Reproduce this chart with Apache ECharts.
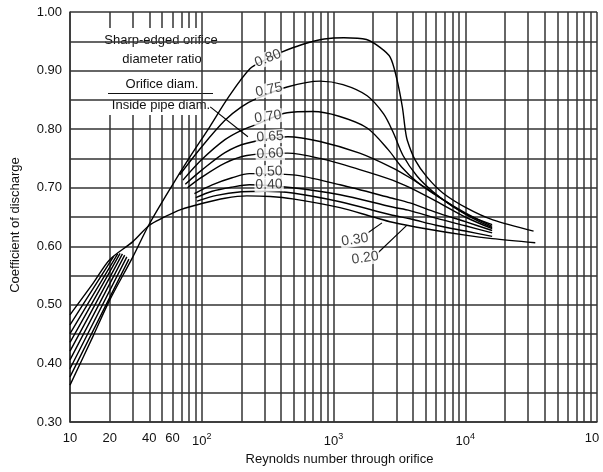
<!DOCTYPE html>
<html><head><meta charset="utf-8">
<script src="https://cdn.jsdelivr.net/npm/echarts@6/dist/echarts.min.js"></script>
<style>html,body{margin:0;padding:0;background:#fff}#c{width:603px;height:472px}</style>
</head><body><div id="c"></div>
<script>
// ---- data ----
const ratioLabels = ['0.80','0.75','0.70','0.65','0.60','0.50','0.40','0.30','0.20'];
const xTickValues = [10, 20, 40, 60, 100, 1000, 10000, 100000];
const xTickText   = ['10','20','40','60','10|2','10|3','10|4','10'];
const yTickValues = [0.30,0.40,0.50,0.60,0.70,0.80,0.90,1.00];

// continuous curves
const curve80 = [[10,0.363],[15,0.447],[20,0.508],[30,0.582],[40,0.638],[60,0.705],[80,0.75],[115,0.804],[160,0.855],[232,0.903],[300,0.918],[400,0.931],[490,0.939],[650,0.948],[850,0.954],[1200,0.956],[1780,0.953],[2240,0.94],[2690,0.923],[3000,0.889],[3330,0.838],[3500,0.80],[3630,0.781],[4170,0.747],[5130,0.718],[6760,0.691],[10300,0.665],[16200,0.645],[33000,0.626]];
const curve20 = [[10,0.483],[15,0.537],[20,0.577],[30,0.608],[40,0.636],[50,0.648],[70,0.663],[100,0.673],[150,0.682],[220,0.686],[330,0.685],[490,0.681],[1120,0.666],[2000,0.65],[2800,0.641],[5000,0.63],[10000,0.619],[16000,0.613],[34000,0.606]];

// laminar-range segments
const low75 = [[10,0.377],[28,0.578]];
const low70 = [[10,0.391],[27,0.582]];
const low65 = [[10,0.406],[26,0.585]];
const low60 = [[10,0.421],[25,0.587]];
const low50 = [[10,0.436],[24,0.588]];
const low40 = [[10,0.451],[23,0.587]];
const low30 = [[10,0.466],[21.5,0.583]];

// upper-range segments
const high75 = [[68,0.722],[100,0.77],[150,0.815],[200,0.838],[260,0.852],[445,0.872],[790,0.882],[1180,0.876],[1800,0.857],[2400,0.826],[2830,0.795],[3370,0.755],[4300,0.72],[5700,0.693],[8000,0.668],[11000,0.651],[16000,0.637]];
const high70 = [[72,0.713],[100,0.748],[150,0.782],[200,0.798],[260,0.808],[445,0.828],[700,0.83],[1100,0.822],[1800,0.802],[2600,0.765],[3300,0.735],[4300,0.71],[6400,0.683],[10000,0.657],[16000,0.634]];
const high65 = [[75,0.706],[100,0.73],[150,0.76],[220,0.776],[450,0.787],[790,0.779],[1580,0.759],[2800,0.734],[3800,0.717],[6000,0.688],[10000,0.655],[16000,0.632]];
const high60 = [[78,0.70],[100,0.718],[150,0.742],[220,0.755],[450,0.759],[790,0.75],[1580,0.731],[2800,0.713],[3800,0.70],[6000,0.677],[10000,0.65],[16000,0.63]];
const high50 = [[88,0.69],[120,0.705],[170,0.717],[230,0.724],[490,0.722],[1120,0.705],[2800,0.682],[3800,0.674],[6000,0.658],[10000,0.642],[16000,0.627]];
const high40 = [[90,0.683],[120,0.694],[170,0.701],[230,0.705],[490,0.70],[1120,0.688],[2800,0.667],[3800,0.661],[6000,0.648],[10000,0.635],[16000,0.623]];
const high30 = [[92,0.677],[130,0.687],[200,0.693],[300,0.694],[490,0.691],[1120,0.676],[2800,0.653],[3800,0.647],[6000,0.636],[10000,0.626],[16000,0.617]];

// label anchors on the curves (Re, Cd) and their tilt
const labelAnchors = [[318,0.921],[324,0.867],[318,0.821],[330,0.787],[330,0.758],[324,0.727],[324,0.705],[1456,0.611],[1740,0.580]];
const labelTilt = [22,12,8,4,3,3,2,8,8];

// ---- build ----
const GRID = '#333';
const CURVE = '#000';
const FONT = 'Liberation Sans, Arial, sans-serif';
function joinSeg(a, b) { return a.concat([[50, '-']], b); }
const curves = [
  curve80,
  joinSeg(low75, high75),
  joinSeg(low70, high70),
  joinSeg(low65, high65),
  joinSeg(low60, high60),
  joinSeg(low50, high50),
  joinSeg(low40, high40),
  joinSeg(low30, high30),
  curve20
];

const minorX = [];
[10, 100, 1000, 10000].forEach(d => { for (let k = 2; k <= 9; k++) minorX.push(k * d); });

const series = [];
series.push({
  type: 'line', data: [], z: -1, silent: true,
  markLine: {
    z: -1, silent: true, symbol: 'none', animation: false,
    label: { show: false },
    lineStyle: { color: GRID, width: 1.5, type: 'solid' },
    emphasis: { disabled: true },
    data: minorX.map(v => ({ xAxis: v }))
  }
});
curves.forEach((d, i) => {
  series.push({
    type: 'line', name: ratioLabels[i], data: d, z: 3,
    showSymbol: false, symbol: 'none', connectNulls: false,
    smooth: 0.3,
    lineStyle: { color: CURVE, width: 1.4 },
    animation: false, silent: true
  });
});
// leader lines
series.push({
  type: 'line', data: [], z: 3, silent: true,
  markLine: {
    z: 3, silent: true, symbol: 'none', animation: false,
    label: { show: false },
    lineStyle: { color: CURVE, width: 1.1, type: 'solid' },
    emphasis: { disabled: true },
    data: [
      [{ coord: [116, 0.838] }, { coord: [224, 0.787] }],
      [{ coord: [1828, 0.623] }, { coord: [2333, 0.640] }],
      [{ coord: [2178, 0.589] }, { coord: [3614, 0.636] }]
    ]
  }
});
// ratio labels
series.push({
  type: 'scatter', z: 6, silent: true, symbolSize: 0, animation: false,
  data: labelAnchors.map((p, i) => ({
    value: p,
    label: { rotate: labelTilt[i] }
  })),
  label: {
    show: true, position: 'inside',
    formatter: p => ratioLabels[p.dataIndex],
    fontFamily: FONT, fontSize: 14, color: '#111',
    backgroundColor: '#fff', padding: [0, 1, 0, 1]
  }
});

const chart = echarts.init(document.getElementById('c'), null, { renderer: 'canvas' });
chart.setOption({
  backgroundColor: '#fff',
  animation: false,
  grid: { left: 70, right: 6, top: 12, bottom: 50, containLabel: false },
  xAxis: {
    type: 'log', logBase: 10, min: 10, max: 100000,
    name: 'Reynolds number through orifice', nameLocation: 'middle', nameGap: 31,
    nameTextStyle: { fontFamily: FONT, fontSize: 13, color: '#111', padding: [0, 0, 0, 12] },
    axisLine: { show: true, lineStyle: { color: GRID, width: 1.5 } },
    axisTick: { show: false },
    splitLine: { show: true, lineStyle: { color: GRID, width: 1.5 } },
    axisLabel: {
      customValues: xTickValues,
      margin: 10,
      formatter: function (v) {
        let best = 0;
        xTickValues.forEach((t, i) => { if (Math.abs(Math.log10(t) - Math.log10(v)) < Math.abs(Math.log10(xTickValues[best]) - Math.log10(v))) best = i; });
        const t = xTickText[best];
        if (best === xTickValues.length - 1) return '{r|' + t + '}';
        if (t.indexOf('|') >= 0) { const p = t.split('|'); return '{b|' + p[0] + '}{s|' + p[1] + '}'; }
        return '{b|' + t + '}';
      },
      rich: {
        b: { fontFamily: FONT, fontSize: 13, color: '#111' },
        r: { fontFamily: FONT, fontSize: 13, color: '#111', padding: [0, 10, 0, 0] },
        s: { fontFamily: FONT, fontSize: 9, color: '#111', padding: [0, 0, 9, 0] }
      }
    }
  },
  yAxis: {
    type: 'value', min: 0.3, max: 1.0, interval: 0.1,
    name: 'Coefficient of discharge', nameLocation: 'middle', nameGap: 48,
    nameTextStyle: { fontFamily: FONT, fontSize: 13, color: '#111', padding: [0, 16, 0, 0] },
    axisLine: { show: true, lineStyle: { color: GRID, width: 1.5 } },
    axisTick: { show: false },
    minorTick: { show: false, splitNumber: 2 },
    splitLine: { show: true, lineStyle: { color: GRID, width: 1.5 } },
    minorSplitLine: { show: true, lineStyle: { color: GRID, width: 1.5 } },
    axisLabel: {
      margin: 8,
      fontFamily: FONT, fontSize: 13, color: '#111',
      formatter: v => Number(v).toFixed(2)
    }
  },
  graphic: [
    { type: 'rect', silent: true, shape: { x: 96, y: 28, width: 134, height: 87 }, style: { fill: '#fff' } },
    { type: 'text', x: 161, y: 40, style: { text: 'Sharp-edged orifice', font: '13px "Liberation Sans", Arial, sans-serif', fill: '#111', align: 'center', verticalAlign: 'middle' } },
    { type: 'text', x: 162, y: 59, style: { text: 'diameter ratio', font: '13px "Liberation Sans", Arial, sans-serif', fill: '#111', align: 'center', verticalAlign: 'middle' } },
    { type: 'text', x: 162, y: 84, style: { text: 'Orifice diam.', font: '13px "Liberation Sans", Arial, sans-serif', fill: '#111', align: 'center', verticalAlign: 'middle' } },
    { type: 'line', shape: { x1: 108, y1: 93.5, x2: 213, y2: 93.5 }, style: { stroke: '#111', lineWidth: 1.2 } },
    { type: 'text', x: 161, y: 105, style: { text: 'Inside pipe diam.', font: '13px "Liberation Sans", Arial, sans-serif', fill: '#111', align: 'center', verticalAlign: 'middle' } }
  ],
  series: series
});
</script>
</body></html>
